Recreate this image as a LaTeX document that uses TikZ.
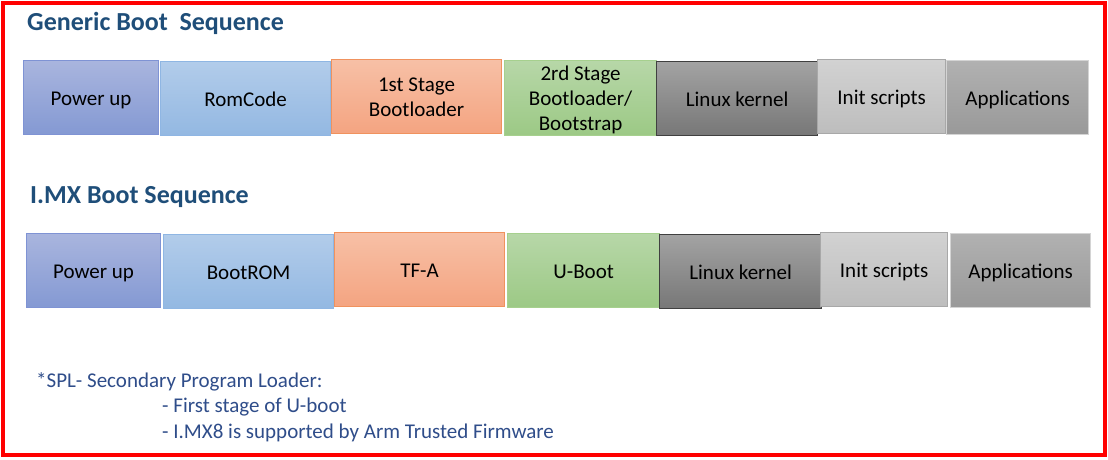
\documentclass[tikz,border=0pt]{standalone}
\usepackage{fontspec}
\setmainfont{Carlito}
\definecolor{ttl}{HTML}{1F4E79}
\definecolor{ftn}{HTML}{2F4D8A}
\definecolor{cPwD}{HTML}{7F93D4}
\definecolor{cPwT}{HTML}{A9B5DE}
\definecolor{cPwB}{HTML}{8499D3}
\definecolor{cRcD}{HTML}{8FB6E3}
\definecolor{cRcT}{HTML}{B2CCEA}
\definecolor{cRcB}{HTML}{93B8E2}
\definecolor{cFsD}{HTML}{F0925E}
\definecolor{cFsT}{HTML}{F7C0A6}
\definecolor{cFsB}{HTML}{F4A481}
\definecolor{cSsD}{HTML}{A6D08E}
\definecolor{cSsT}{HTML}{B7D7A8}
\definecolor{cSsB}{HTML}{9CC985}
\definecolor{cLkD}{HTML}{404040}
\definecolor{cLkT}{HTML}{A3A3A3}
\definecolor{cLkB}{HTML}{777777}
\definecolor{cIsD}{HTML}{A8A8A8}
\definecolor{cIsT}{HTML}{D2D2D2}
\definecolor{cIsB}{HTML}{BDBDBD}
\definecolor{cApD}{HTML}{D4D4D4}
\definecolor{cApT}{HTML}{B1B1B1}
\definecolor{cApB}{HTML}{999999}
\newcommand\lowtxt[1]{\raisebox{-2.5pt}[\height][\depth]{\begin{tabular}{@{}c@{}}#1\end{tabular}}}
\tikzset{
  blk/.style={draw, line width=1.2pt, inner sep=0pt, anchor=north west, align=center, font=\fontsize{21}{25}\selectfont, text=black, minimum height=74pt},
  pw/.style={blk, draw=cPwD, top color=cPwT, bottom color=cPwB},
  rc/.style={blk, draw=cRcD, top color=cRcT, bottom color=cRcB},
  fs/.style={blk, draw=cFsD, top color=cFsT, bottom color=cFsB},
  ss/.style={blk, draw=cSsD, top color=cSsT, bottom color=cSsB},
  lk/.style={blk, draw=cLkD, top color=cLkT, bottom color=cLkB},
  is/.style={blk, draw=cIsD, top color=cIsT, bottom color=cIsB},
  ap/.style={blk, draw=cApD, top color=cApT, bottom color=cApB},
  ttlstyle/.style={anchor=base west, inner sep=0pt, text=ttl, font=\fontsize{26}{30}\selectfont\bfseries},
  ftnstyle/.style={anchor=base west, inner sep=0pt, text=ftn, font=\fontsize{21}{25}\selectfont},
}
\begin{document}
\begin{tikzpicture}[x=1pt,y=-1pt]
\useasboundingbox (0,0) rectangle (1108,460);
\fill[white] (0,0) rectangle (1108,460);
\draw[red, line width=4pt] (3,3) rectangle (1105,455);

\node[ttlstyle] (t1) at (27,31) {Generic Boot\ \ Sequence};
\node[ttlstyle] (t2) at (30,203) {I.MX Boot Sequence};

% Generic row
\node[pw, minimum width=135pt] (g1) at (23,60) {\lowtxt{Power up}};
\node[rc, minimum width=170pt] (g2) at (160,61) {\lowtxt{RomCode}};
\node[fs, minimum width=170pt] (g3) at (331,59) {\lowtxt{1st Stage\\Bootloader}};
\node[ss, minimum width=152pt] (g4) at (504,60) {\lowtxt{2rd Stage\\Bootloader/\\Bootstrap}};
\node[lk, minimum width=161pt] (g5) at (656,61) {\lowtxt{Linux kernel}};
\node[is, minimum width=128pt] (g6) at (817,59) {\lowtxt{Init scripts}};
\node[ap, minimum width=142pt] (g7) at (946,60) {\lowtxt{Applications}};

% I.MX row
\node[pw, minimum width=134pt] (m1) at (26,233) {\lowtxt{Power up}};
\node[rc, minimum width=170pt] (m2) at (163,234) {\lowtxt{BootROM}};
\node[fs, minimum width=170pt] (m3) at (334,232) {\lowtxt{TF-A}};
\node[ss, minimum width=152pt] (m4) at (507,233) {\lowtxt{U-Boot}};
\node[lk, minimum width=162pt] (m5) at (659,234) {\lowtxt{Linux kernel}};
\node[is, minimum width=127pt] (m6) at (820,232) {\lowtxt{Init scripts}};
\node[ap, minimum width=140pt] (m7) at (950,233) {\lowtxt{Applications}};

% footnote
\node[ftnstyle] (f1) at (36,387) {*SPL- Secondary Program Loader:};
\node[ftnstyle] (f2) at (162,412) {- First stage of U-boot};
\node[ftnstyle] (f3) at (162,438) {- I.MX8 is supported by Arm Trusted Firmware};
\end{tikzpicture}
\end{document}
